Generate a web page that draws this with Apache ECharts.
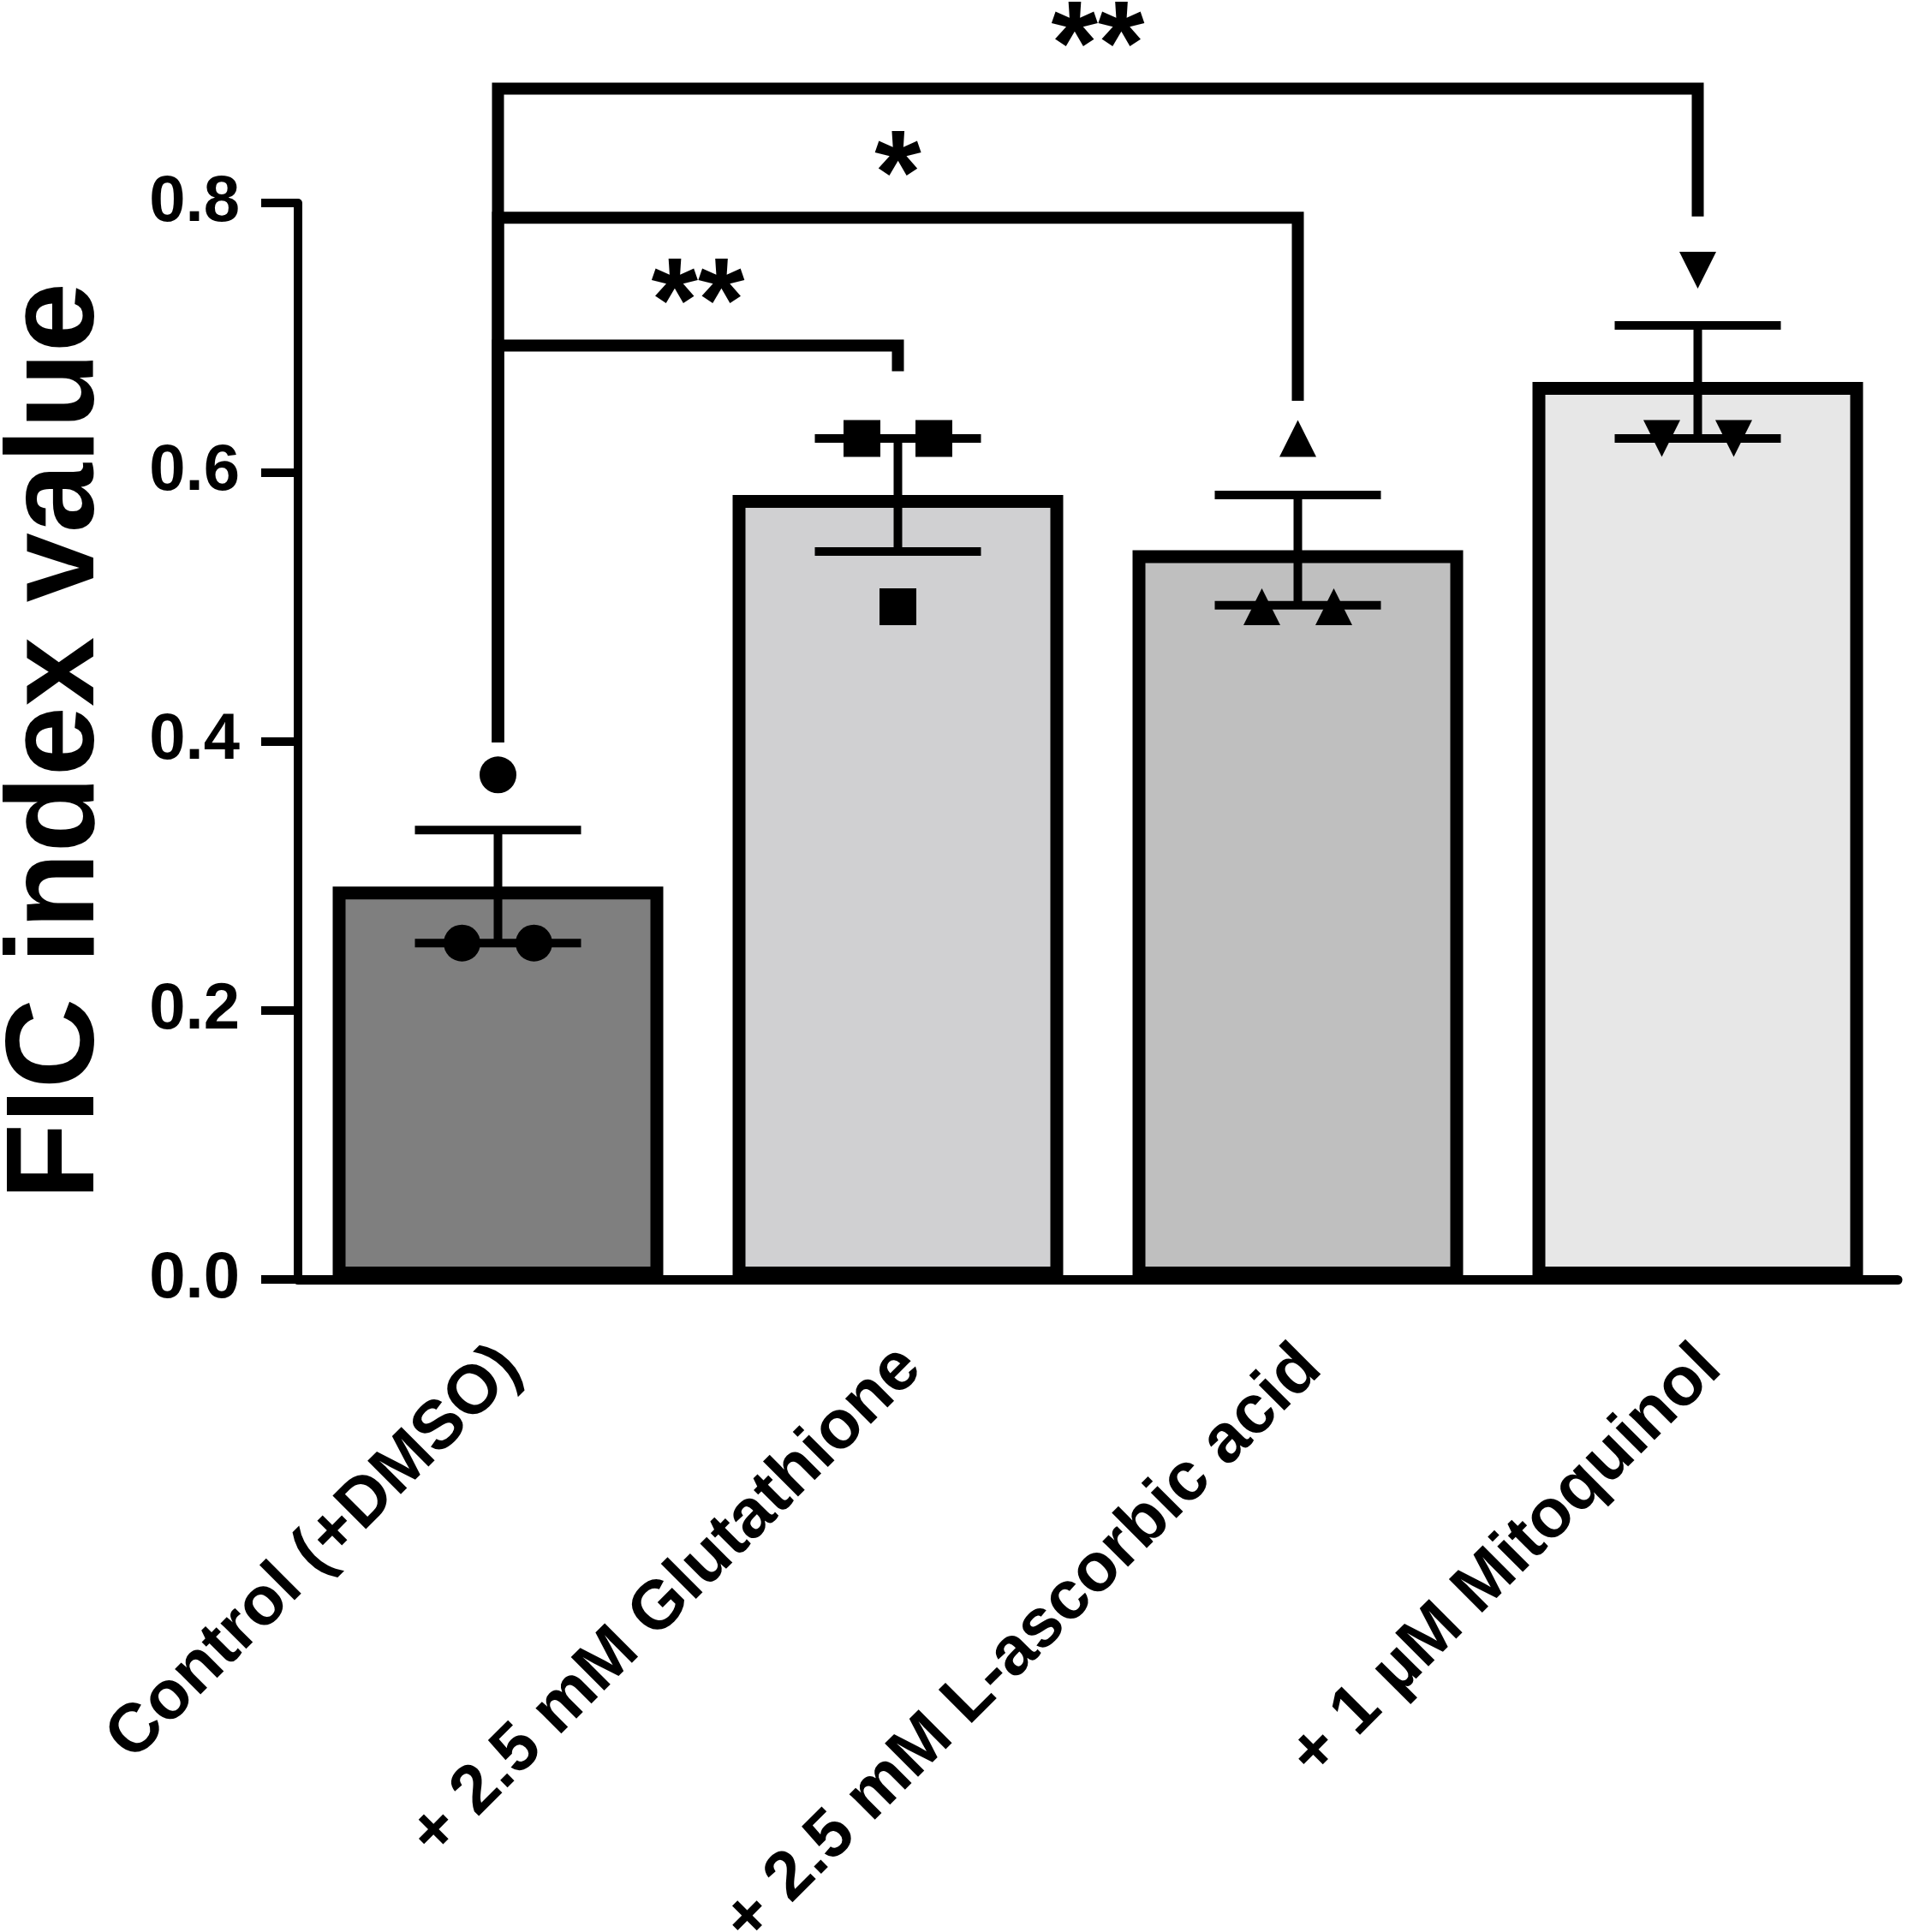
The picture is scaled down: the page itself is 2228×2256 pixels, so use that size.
<!DOCTYPE html>
<html>
<head>
  <meta charset="utf-8">
  <title>FIC index value</title>
  <script type="text/javascript" src="https://cdn.jsdelivr.net/npm/echarts@6/dist/echarts.min.js"></script>
  <style>
    html, body {
      margin: 0;
      padding: 0;
      background: #fff;
    }
  </style>
</head>
<body>
  <div id="main" style="width: 2228px; height: 2256px;"></div>
  <script>
    // data
    var categories = ['Control (+DMSO)', '+ 2.5 mM Glutathione', '+ 2.5 mM L-ascorbic acid', '+ 1 µM Mitoquinol'];
    var barMeans = [0.292, 0.583, 0.542, 0.667];
    var barSem = [0.042, 0.042, 0.041, 0.042];
    var replicates = [
      [0.25, 0.25, 0.375],
      [0.625, 0.625, 0.5],
      [0.5, 0.5, 0.625],
      [0.625, 0.625, 0.75]
    ];
    var yTicks = [0, 0.2, 0.4, 0.6, 0.8];

    // significance brackets: [from, to, bracket level, left leg bottom, right leg bottom]
    var bracketFrom = [0, 0, 0];
    var bracketTo = [1, 2, 3];
    var bracketLevel = [0.694, 0.789, 0.885];
    var bracketLeftEnd = [0.399, 0.399, 0.399];
    var bracketRightEnd = [0.675, 0.653, 0.790];
    var bracketStars = ['**', '*', '**'];

    var barColors = ['#7f7f7f', '#d0d0d2', '#bfbfbf', '#e7e7e7'];
    var pointSymbols = ['circle', 'rect', 'triangle', 'triangle'];
    var pointRotate = [0, 0, 0, 180];
    var font = 'Liberation Sans, Arial, sans-serif';

    var chart = echarts.init(document.getElementById('main'));

    // scatter points, equal values get spread sideways
    var pointData = [];
    replicates.forEach(function (vals, i) {
      var seen = {};
      vals.forEach(function (v) {
        var n = vals.filter(function (w) { return w === v; }).length;
        var k = seen[v] || 0;
        seen[v] = k + 1;
        var dx = n > 1 ? (k === 0 ? -42 : 42) : 0;
        pointData.push({
          value: [i, v],
          symbol: pointSymbols[i],
          symbolRotate: pointRotate[i],
          symbolOffset: [dx, 0]
        });
      });
    });

    var errData = barMeans.map(function (m, i) { return [i, m, barSem[i]]; });
    var bracketData = bracketLevel.map(function (y, i) {
      return [bracketFrom[i], bracketTo[i], y, bracketLeftEnd[i], bracketRightEnd[i], i];
    });

    var option = {
      animation: false,
      backgroundColor: '#fff',
      grid: {
        left: 348,
        right: 12,
        top: 237,
        bottom: 762,
        containLabel: false,
        outerBoundsMode: 'none'
      },
      xAxis: {
        type: 'category',
        data: categories,
        boundaryGap: true,
        axisLine: { lineStyle: { color: '#000', width: 11 } },
        axisTick: { alignWithLabel: true, length: 42, lineStyle: { color: '#000', width: 10 } },
        axisLabel: {
          rotate: 45,
          interval: 0,
          margin: 106,
          padding: [0, -21, 0, 0],
          color: '#000',
          fontSize: 80,
          fontWeight: 'bold',
          fontFamily: font
        }
      },
      yAxis: {
        type: 'value',
        min: 0,
        max: 0.8,
        interval: 0.2,
        name: 'FIC index value',
        nameLocation: 'middle',
        nameGap: 206,
        nameTextStyle: {
          color: '#000',
          fontSize: 146,
          fontWeight: 'bold',
          fontFamily: font
        },
        splitLine: { show: false },
        axisLine: { show: true, lineStyle: { color: '#000', width: 10 } },
        axisTick: { show: true, length: 43, lineStyle: { color: '#000', width: 10 } },
        axisLabel: {
          margin: 68,
          color: '#000',
          fontSize: 76,
          fontWeight: 'bold',
          fontFamily: font,
          formatter: function (v) { return v.toFixed(1); }
        }
      },
      series: [
        {
          type: 'bar',
          barWidth: 386,
          z: 2,
          data: barMeans.map(function (m, i) {
            return {
              value: m,
              itemStyle: { color: barColors[i], borderColor: '#000', borderWidth: 15 }
            };
          })
        },
        {
          // mean +/- SEM
          type: 'custom',
          z: 4,
          data: errData,
          renderItem: function (params, api) {
            var x = api.value(0), m = api.value(1), s = api.value(2);
            var hi = api.coord([x, m + s]);
            var lo = api.coord([x, m - s]);
            var half = 97;
            var st = { stroke: '#000', lineWidth: 10, fill: null };
            return {
              type: 'group',
              children: [
                { type: 'line', shape: { x1: hi[0], y1: hi[1], x2: lo[0], y2: lo[1] }, style: st },
                { type: 'line', shape: { x1: hi[0] - half, y1: hi[1], x2: hi[0] + half, y2: hi[1] }, style: st },
                { type: 'line', shape: { x1: lo[0] - half, y1: lo[1], x2: lo[0] + half, y2: lo[1] }, style: st }
              ]
            };
          }
        },
        {
          type: 'scatter',
          z: 5,
          symbolSize: 43,
          itemStyle: { color: '#000', opacity: 1 },
          data: pointData
        },
        {
          // significance brackets
          type: 'custom',
          z: 6,
          clip: false,
          data: bracketData,
          renderItem: function (params, api) {
            var a = api.value(0), b = api.value(1), y = api.value(2);
            var p1 = api.coord([a, api.value(3)]);
            var p2 = api.coord([a, y]);
            var p3 = api.coord([b, y]);
            var p4 = api.coord([b, api.value(4)]);
            var idx = api.value(5);
            return {
              type: 'group',
              children: [
                {
                  type: 'polyline',
                  shape: { points: [p1, p2, p3, p4] },
                  style: { stroke: '#000', lineWidth: 14, fill: null, lineJoin: 'miter' }
                },
                {
                  type: 'text',
                  x: (p2[0] + p3[0]) / 2,
                  y: p2[1] - 44,
                  style: {
                    text: bracketStars[idx],
                    fill: '#000',
                    font: 'bold 140px ' + font,
                    align: 'center',
                    verticalAlign: 'middle'
                  }
                }
              ]
            };
          }
        }
      ]
    };

    chart.setOption(option);
  </script>
</body>
</html>
